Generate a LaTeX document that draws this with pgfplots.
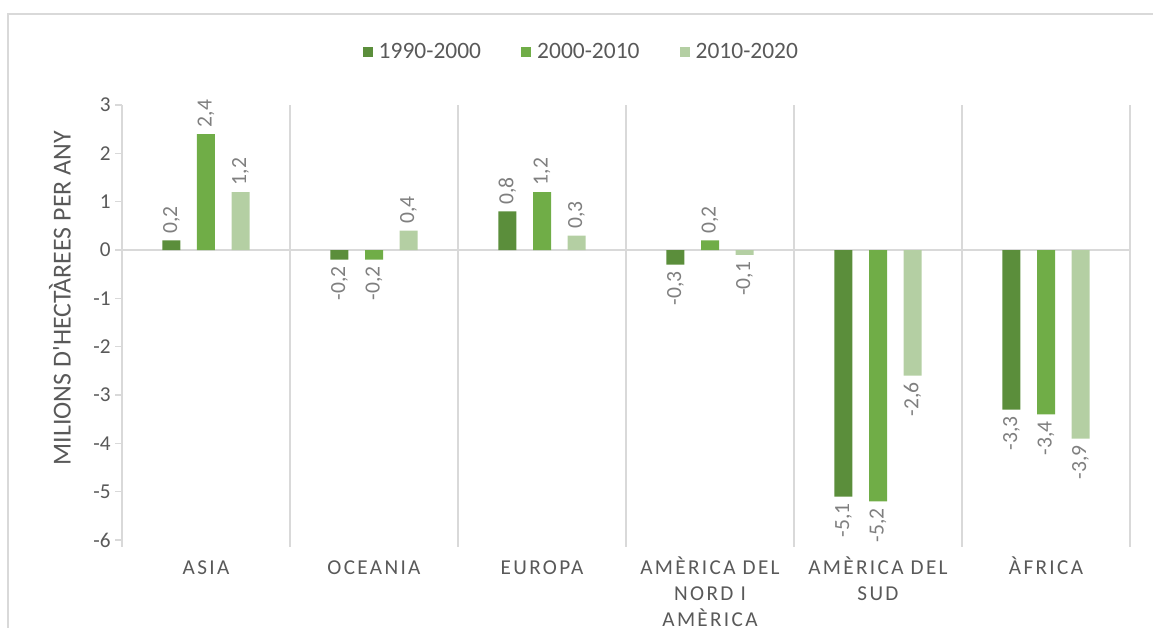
\documentclass[border=0pt]{standalone}
\usepackage{fontspec}
\setmainfont{Carlito}[Ligatures=TeXOff]
\newfontfamily\catfont{Carlito}[LetterSpace=11,Ligatures=TeXOff]
\usepackage{graphicx}
\usepackage{pgfplots}
\pgfplotsset{compat=1.18}
\definecolor{cDark}{HTML}{5B8E3B}
\definecolor{cMid}{HTML}{70AD47}
\definecolor{cLight}{HTML}{B4CFA3}
\definecolor{txt}{HTML}{595959}
\definecolor{lbl}{HTML}{7F7F7F}
\definecolor{gridc}{HTML}{D9D9D9}
\newcommand{\cs}{\rule{0pt}{15pt}}
\begin{document}
\begin{tikzpicture}
\path[use as bounding box] (-91.5pt,-66pt) rectangle (773.25pt,405pt);
\draw[gridc, line width=1pt] (-85.5pt,-70pt) -- (-85.5pt,394.5pt) -- (780pt,394.5pt);
\begin{axis}[
  at={(0,0)}, anchor=south west,
  scale only axis, width=756pt, height=326.25pt,
  xmin=-0.5, xmax=5.5, ymin=-6, ymax=3,
  axis line style={draw=none},
  ybar, bar width=13.5pt,
  xtick={-0.5,0.5,...,5.5}, xticklabels={,,,,,,,},
  xmajorgrids, major grid style={gridc, line width=1pt},
  tick style={gridc, line width=1pt},
  tick align=outside, tick pos=left, major tick length=5pt,
  extra x ticks={0,1,2,3,4,5},
  extra x tick labels={\cs ASIA,\cs OCEANIA,\cs EUROPA,{\cs AMÈRICA DEL\\NORD I\\AMÈRICA},{\cs AMÈRICA DEL\\SUD},\cs ÀFRICA},
  extra x tick style={major tick length=0pt, grid=none,
    xticklabel style={align=center, font=\catfont\fontsize{15.9}{19.5}\selectfont, text=txt, anchor=north, yshift=-7.6pt}},
  ytick={-6,-5,...,3},
  yticklabel={\pgfmathprintnumber[assume math mode=true]{\tick}},
  yticklabel style={text=txt, font=\fontsize{15.9}{19}\selectfont},
  extra y ticks={0}, extra y tick labels={},
  extra y tick style={grid=major, major tick length=0pt},
  ylabel={MILIONS D'HECTÀREES PER ANY},
  ylabel style={at={(axis description cs:-0.0615,0.556)}, anchor=center, font=\fontsize{19.4}{22}\selectfont, text=txt},
  nodes near coords={\rotatebox{90}{\pgfmathprintnumber[fixed,fixed zerofill,precision=1,use comma,assume math mode=true]{\pgfplotspointmeta}}},
  nodes near coords style={font=\fontsize{16.2}{19}\selectfont, text=lbl, inner sep=5pt},
  legend style={draw=none, fill=none, at={(0.456,1.121)}, anchor=center, legend columns=-1,
    font=\fontsize{17.6}{20}\selectfont, text=txt,
    /tikz/every even column/.append style={column sep=28pt}},
  legend image code/.code={\fill[#1, draw=none] (0pt,-3.8pt) rectangle (7.6pt,3.8pt);},
  legend style={/tikz/every odd column/.append style={column sep=2.5pt}},
]
\addplot[fill=cDark, draw=none, bar shift=-25.9pt] coordinates {(0,0.2) (1,-0.2) (2,0.8) (3,-0.3) (4,-5.1) (5,-3.3)};
\addplot[fill=cMid, draw=none, bar shift=0pt] coordinates {(0,2.4) (1,-0.2) (2,1.2) (3,0.2) (4,-5.2) (5,-3.4)};
\addplot[fill=cLight, draw=none, bar shift=25.9pt] coordinates {(0,1.2) (1,0.4) (2,0.3) (3,-0.1) (4,-2.6) (5,-3.9)};
\legend{1990-2000,2000-2010,2010-2020}
\end{axis}
\end{tikzpicture}
\end{document}
